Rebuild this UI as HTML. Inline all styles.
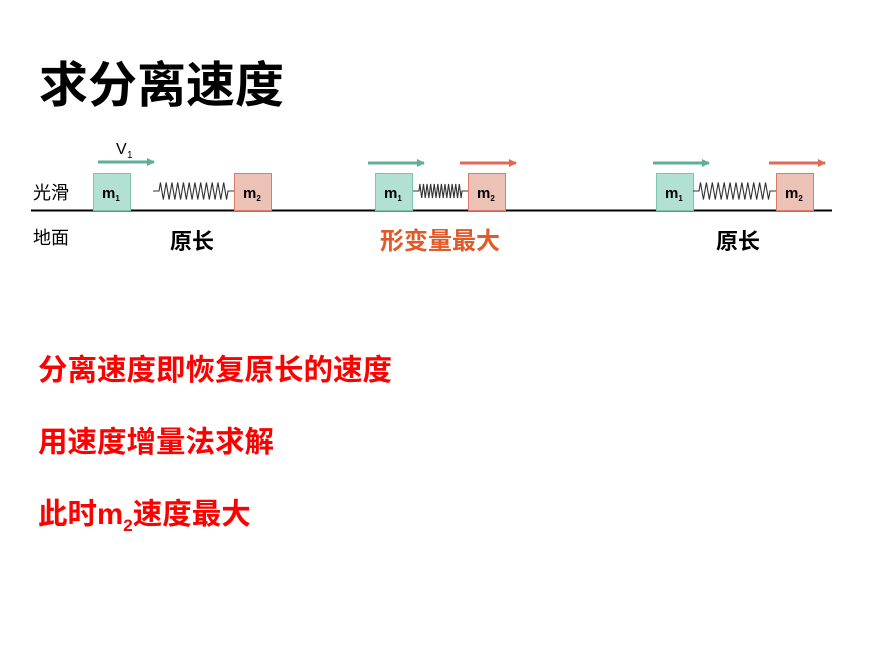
<!DOCTYPE html>
<html><head><meta charset="utf-8"><style>
body{margin:0;width:885px;height:657px;background:#fff;position:relative;overflow:hidden;font-family:"Liberation Sans","Noto Sans CJK SC",sans-serif}
.t{position:absolute;white-space:nowrap}
.r{color:#ff0000;font-size:29.5px;font-weight:bold;left:38px;line-height:32px}
</style></head><body>
<div class="t" style="left:39px;top:46px;font-size:49px;font-weight:bold;color:#000">求分离速度</div>
<svg width="885" height="657" style="position:absolute;left:0;top:0" font-family="Liberation Sans,Noto Sans CJK SC,sans-serif">
<defs>
<marker id="g" markerWidth="8" markerHeight="8" refX="7" refY="4" orient="auto" markerUnits="userSpaceOnUse"><path d="M0,0L8,4L0,8z" fill="#5fae99"/></marker>
<marker id="rd" markerWidth="8" markerHeight="8" refX="7" refY="4" orient="auto" markerUnits="userSpaceOnUse"><path d="M0,0L8,4L0,8z" fill="#e06a55"/></marker>
</defs>
<line x1="31" y1="210.5" x2="832" y2="210.5" stroke="#000" stroke-width="2"/>
<text x="33" y="199" font-size="18">光滑</text>
<text x="33" y="244" font-size="18">地面</text>
<text x="116" y="154" font-size="16">V</text><text x="127" y="158" font-size="10">1</text>
<g stroke-width="3">
<line x1="98" y1="162" x2="154" y2="162" stroke="#5fae99" marker-end="url(#g)"/>
<line x1="368" y1="163" x2="424" y2="163" stroke="#5fae99" marker-end="url(#g)"/>
<line x1="460" y1="163" x2="516" y2="163" stroke="#e06a55" marker-end="url(#rd)"/>
<line x1="653" y1="163" x2="709" y2="163" stroke="#5fae99" marker-end="url(#g)"/>
<line x1="769" y1="163" x2="825" y2="163" stroke="#e06a55" marker-end="url(#rd)"/>
</g>
<g stroke-width="1">
<rect x="93.5" y="173.5" width="37" height="37" fill="#b2e0d2" stroke="#7cc4ad"/>
<rect x="234.5" y="173.5" width="37" height="37" fill="#ecc2b6" stroke="#e07a6a"/>
<rect x="375.5" y="173.5" width="37" height="37" fill="#b2e0d2" stroke="#7cc4ad"/>
<rect x="468.5" y="173.5" width="37" height="37" fill="#ecc2b6" stroke="#e07a6a"/>
<rect x="656.5" y="173.5" width="37" height="37" fill="#b2e0d2" stroke="#7cc4ad"/>
<rect x="776.5" y="173.5" width="37" height="37" fill="#ecc2b6" stroke="#e07a6a"/>
</g>
<g font-size="15" font-weight="bold">
<text x="102" y="198">m<tspan font-size="8" dy="3">1</tspan></text>
<text x="243" y="198">m<tspan font-size="8" dy="3">2</tspan></text>
<text x="384" y="198">m<tspan font-size="8" dy="3">1</tspan></text>
<text x="477" y="198">m<tspan font-size="8" dy="3">2</tspan></text>
<text x="665" y="198">m<tspan font-size="8" dy="3">1</tspan></text>
<text x="785" y="198">m<tspan font-size="8" dy="3">2</tspan></text>
</g>
<g font-size="22" font-weight="bold">
<text x="170" y="249">原长</text>
<text x="380" y="249" fill="#e05a2a" font-size="24">形变量最大</text>
<text x="716" y="249">原长</text>
</g>
<g fill="none" stroke="#333" stroke-width="1.1" id="springs"></g>
</svg>
<div class="t r" style="top:355px">分离速度即恢复原长的速度</div>
<div class="t r" style="top:427px">用速度增量法求解</div>
<div class="t r" style="top:499px">此时m<sub style="font-size:17px">2</sub>速度最大</div>
<script>
function spring(x0,x1,n,amp){
  var a=x0+6,b=x1-6,pts=[x0+" 191",a+" 191"];
  for(var i=0;i<n;i++){var x=a+(b-a)*(i+0.5)/n;pts.push(x+" "+(i%2?191+amp:191-amp));}
  pts.push(b+" 191",x1+" 191");
  var p=document.createElementNS("http://www.w3.org/2000/svg","polyline");
  p.setAttribute("points",pts.join(" "));
  document.getElementById("springs").appendChild(p);
}
spring(153,234,24,8.5);spring(413,468,24,7);spring(693,776,24,8.5);
</script>
</body></html>
